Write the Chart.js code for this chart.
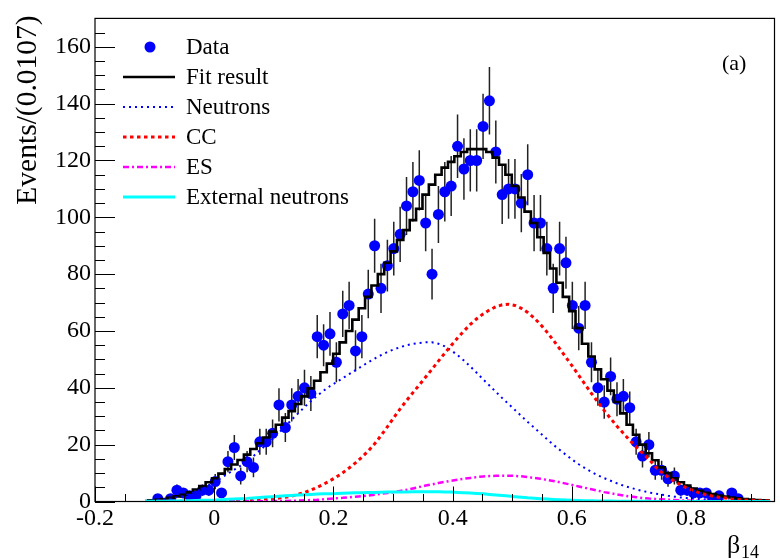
<!DOCTYPE html>
<html><head><meta charset="utf-8">
<script src="https://cdn.jsdelivr.net/npm/chart.js@4.4.1/dist/chart.umd.min.js"></script>
<style>html,body{margin:0;padding:0;background:#fff}#wrap{width:780px;height:559px}</style>
</head><body><div id="wrap"><canvas id="c" width="780" height="559"></canvas></div>
<script>
// Histogram binning (bin width from the axis title)
const BIN_LOW = -0.1;
const BIN_WIDTH = 0.0107;
const FIRST_BIN = -2;   // arrays start two bins below BIN_LOW

// Data counts per bin (null = empty bin, not drawn)
const dataCounts = [
  null, null, 1, null, 1, 4, 3, 2, 2, 4,
  4, 7, 3, 14, 19, 9, 14, 12, 21, 21,
  24, 34, 26, 34, 37, 40, 38, 58, 55, 59,
  49, 66, 69, 53, 58, 73, 90, 75, 83, 89,
  94, 104, 109, 113, 98, 80, 101, 109, 111, 125,
  117, 120, 120, 132, 141, 123, 108, 110, 110, 105,
  115, 98, 98, 89, 75, 89, 84, 69, 61, 69,
  49, 40, 35, 44, 36, 37, 33, 21, 16, 20,
  11, 11, 8, 9, 4, 4, 3, 3, 3, 1,
  2, null, 3, 1, null, null, null, null, null
];
const fitResult = [
  0.2, 0.4, 0.6, 0.9, 1.3, 1.8, 2.4, 3.2, 4.2, 5.4,
  6.8, 8.2, 9.8, 11.4, 13, 14.6, 16.5, 18.5, 20.5, 22.5,
  24.6, 27, 29.5, 31.8, 34.3, 37, 39.8, 42.5, 45.5, 48.5,
  52, 56, 60, 64, 68, 72, 76, 80, 84, 88,
  92, 95.5, 99, 103, 108, 111.5, 115, 117.5, 119.5, 121.5,
  123, 124, 124, 124, 123, 121, 118.5, 115, 111, 107,
  102, 98, 93, 87.5, 82, 77, 72, 67, 61, 55.5,
  51, 46.5, 43, 39, 35, 31, 27, 23.5, 20, 17,
  14.5, 12, 10, 8.2, 6.8, 5.6, 4.6, 3.8, 3.1, 2.6,
  2.1, 1.7, 1.4, 1.1, 0.9, 0.7, 0.55, 0.45, 0.35
];
const neutrons = [
  0.1, 0.3, 0.5, 0.8, 1.1, 1.5, 2.0, 2.7, 3.5, 4.5,
  5.7, 7.0, 8.4, 9.8, 11.2, 12.6, 14.2, 16, 18, 20,
  22, 24.2, 26.5, 28.8, 31, 33.2, 35.3, 37.2, 39, 40.6,
  42, 43.4, 44.8, 46.2, 47.6, 49, 50.3, 51.5, 52.6, 53.5,
  54.3, 55, 55.5, 55.8, 56, 56, 55.5, 54.6, 53.2, 51.5,
  49.6, 47.5, 45.3, 43, 40.8, 38.6, 36.4, 34.3, 32.2, 30.1,
  28, 26, 24, 22, 20, 18.2, 16.4, 14.7, 13.1, 11.7,
  10.4, 9.2, 8.2, 7.3, 6.4, 5.6, 4.9, 4.3, 3.7, 3.2,
  2.8, 2.4, 2.0, 1.7, 1.4, 1.2, 1.0, 0.85, 0.7, 0.6,
  0.5, 0.4, 0.33, 0.27, 0.22, 0.18, 0.14, 0.11, 0.09
];
const ccValues = [
  0, 0, 0.05, 0.05, 0.1, 0.1, 0.1, 0.15, 0.15, 0.2,
  0.25, 0.3, 0.35, 0.4, 0.45, 0.5, 0.6, 0.7, 0.8, 0.9,
  1.0, 1.2, 1.5, 1.9, 2.5, 3.2, 4.0, 5.0, 6.1, 7.3,
  8.6, 10.1, 11.8, 13.6, 15.6, 17.8, 20.3, 23.2, 26.3, 29.5,
  32.6, 35.5, 38.3, 41, 43.8, 46.6, 49.4, 52.2, 54.9, 57.5,
  60, 62.3, 64.3, 66, 67.4, 68.5, 69.2, 69.4, 69, 68,
  66.5, 64.6, 62.3, 59.7, 56.8, 53.8, 50.7, 47.6, 44.4, 41.2,
  38, 35, 32, 29.2, 26.5, 24, 21.5, 19.2, 17, 14.9,
  12.3, 10.3, 8.6, 7.1, 5.8, 4.7, 3.8, 3.0, 2.4, 1.9,
  1.5, 1.2, 0.9, 0.7, 0.55, 0.42, 0.32, 0.24, 0.18
];
const esValues = [
  0, 0, 0, 0, 0, 0, 0, 0, 0, 0,
  0.01, 0.02, 0.03, 0.04, 0.05, 0.06, 0.07, 0.08, 0.1, 0.12,
  0.14, 0.17, 0.2, 0.25, 0.3, 0.4, 0.5, 0.6, 0.8, 1.0,
  1.15, 1.3, 1.5, 1.7, 1.9, 2.1, 2.4, 2.7, 3.0, 3.3,
  3.7, 4.1, 4.6, 5.1, 5.6, 6.0, 6.5, 6.9, 7.3, 7.7,
  8.0, 8.3, 8.6, 8.8, 8.95, 9.05, 9.1, 9.1, 9.0, 8.85,
  8.6, 8.3, 8.0, 7.6, 7.2, 6.8, 6.3, 5.8, 5.3, 4.8,
  4.3, 3.8, 3.3, 2.9, 2.5, 2.1, 1.8, 1.5, 1.25, 1.05,
  0.9, 0.75, 0.62, 0.5, 0.4, 0.32, 0.25, 0.2, 0.15, 0.12,
  0.1, 0.08, 0.06, 0.05, 0.04, 0.03, 0.02, 0.02, 0.01
];
const externalNeutrons = [
  0.05, 0.08, 0.1, 0.13, 0.17, 0.2, 0.25, 0.3, 0.35, 0.4,
  0.45, 0.5, 0.62, 0.75, 0.9, 1.0, 1.1, 1.25, 1.4, 1.55,
  1.7, 1.85, 2.0, 2.15, 2.3, 2.4, 2.5, 2.6, 2.7, 2.75,
  2.8, 2.9, 3.0, 3.05, 3.1, 3.15, 3.2, 3.25, 3.3, 3.32,
  3.35, 3.37, 3.4, 3.4, 3.4, 3.4, 3.4, 3.35, 3.3, 3.2,
  3.1, 3.0, 2.85, 2.7, 2.5, 2.3, 2.1, 1.9, 1.7, 1.5,
  1.3, 1.15, 1.0, 0.85, 0.72, 0.6, 0.5, 0.42, 0.35, 0.3,
  0.25, 0.2, 0.17, 0.14, 0.12, 0.1, 0.08, 0.07, 0.06, 0.05,
  0.04, 0.04, 0.03, 0.03, 0.02, 0.02, 0.02, 0.01, 0.01, 0.01,
  0.01, 0.01, 0, 0, 0, 0, 0, 0, 0
];
const xTickValues = [-0.2, 0, 0.2, 0.4, 0.6, 0.8];
const xTickLabels = ['-0.2', '0', '0.2', '0.4', '0.6', '0.8'];
const yTickValues = [0, 20, 40, 60, 80, 100, 120, 140, 160];
const legendLabels = ['Data', 'Fit result', 'Neutrons', 'CC', 'ES', 'External neutrons'];

const binCenters = dataCounts.map((_, i) => BIN_LOW + (FIRST_BIN + i + 0.5) * BIN_WIDTH);
const pts = arr => arr.map((v, i) => ({x: binCenters[i], y: v}));

const FONT = "'Liberation Serif', 'Times New Roman', serif";

const framePlugin = {
  id: 'frame',
  beforeDatasetsDraw(chart) {
    const {ctx, chartArea: a, scales: {x, y}} = chart;
    // error bars
    ctx.save();
    ctx.beginPath(); ctx.rect(a.left, a.top, a.right - a.left, a.bottom - a.top); ctx.clip();
    ctx.strokeStyle = '#222'; ctx.lineWidth = 1.5;
    dataCounts.forEach((v, i) => {
      if (v === null) return;
      const px = x.getPixelForValue(binCenters[i]);
      const e = Math.sqrt(v);
      ctx.beginPath();
      ctx.moveTo(px, y.getPixelForValue(v - e));
      ctx.lineTo(px, y.getPixelForValue(v + e));
      ctx.stroke();
    });
    ctx.restore();
  },
  afterDraw(chart) {
    const {ctx, chartArea: a, scales: {x, y}} = chart;
    ctx.save();
    // frame
    ctx.strokeStyle = '#000'; ctx.lineWidth = 1.2;
    ctx.strokeRect(a.left, a.top, a.right - a.left, a.bottom - a.top);
    // x ticks (every 0.05, major every 0.2)
    ctx.lineWidth = 1;
    for (let i = 0; i <= 22; i++) {
      const v = -0.2 + 0.05 * i;
      if (v > x.max) break;
      const px = Math.round(x.getPixelForValue(v)) + 0.5;
      const len = (i % 4 === 0) ? 15 : 7.5;
      ctx.beginPath(); ctx.moveTo(px, a.bottom); ctx.lineTo(px, a.bottom - len); ctx.stroke();
    }
    // y ticks (every 5, major every 20)
    for (let i = 0; i * 5 <= y.max; i++) {
      const py = Math.round(y.getPixelForValue(i * 5)) + 0.5;
      const len = (i % 4 === 0) ? 20 : 10;
      ctx.beginPath(); ctx.moveTo(a.left, py); ctx.lineTo(a.left + len, py); ctx.stroke();
    }
    // axis titles
    ctx.fillStyle = '#000';
    ctx.save();
    ctx.translate(36, a.top - 3);
    ctx.rotate(-Math.PI / 2);
    ctx.font = '29.5px ' + FONT;
    ctx.textAlign = 'right'; ctx.textBaseline = 'alphabetic';
    ctx.fillText('Events/(0.0107)', 0, 0);
    ctx.restore();
    ctx.textAlign = 'left'; ctx.textBaseline = 'alphabetic';
    ctx.font = '26px ' + FONT;
    ctx.fillText('\u03B2', 727, 553);
    ctx.font = '18px ' + FONT;
    ctx.fillText('14', 741, 558);
    // panel label
    ctx.font = '22px ' + FONT;
    ctx.textBaseline = 'middle';
    ctx.fillText('(a)', 722, 64);
    // legend
    const ds = chart.data.datasets;
    ctx.font = '23px ' + FONT;
    legendLabels.forEach((lab, i) => {
      const ly = 47 + 30 * i;
      const d = ds[i];
      if (i === 0) {
        ctx.fillStyle = d.pointBackgroundColor;
        ctx.beginPath(); ctx.arc(150, ly, 5.5, 0, Math.PI * 2); ctx.fill();
      } else {
        ctx.strokeStyle = d.borderColor; ctx.lineWidth = d.borderWidth;
        ctx.setLineDash(d.borderDash || []);
        ctx.beginPath(); ctx.moveTo(123, ly); ctx.lineTo(175, ly); ctx.stroke();
        ctx.setLineDash([]);
      }
      ctx.fillStyle = '#000';
      ctx.fillText(lab, 186, ly + 1);
    });
    ctx.restore();
  }
};

new Chart(document.getElementById('c'), {
  type: 'line',
  data: {
    datasets: [
      {label: legendLabels[0], data: pts(dataCounts), showLine: false, pointRadius: 5.5,
       pointBackgroundColor: '#0000ff', pointBorderWidth: 0, pointBorderColor: '#0000ff', order: 10},
      {label: legendLabels[1], data: pts(fitResult), borderColor: '#000', borderWidth: 2.6,
       stepped: 'middle', pointRadius: 0, order: 6},
      {label: legendLabels[2], data: pts(neutrons), borderColor: '#0000ff', borderWidth: 2,
       borderDash: [2, 4], pointRadius: 0, order: 4},
      {label: legendLabels[3], data: pts(ccValues), borderColor: '#ff0000', borderWidth: 3,
       borderDash: [3.5, 3.5], pointRadius: 0, order: 3},
      {label: legendLabels[4], data: pts(esValues), borderColor: '#ff00ff', borderWidth: 2.5,
       borderDash: [6, 3, 2, 3], pointRadius: 0, order: 2},
      {label: legendLabels[5], data: pts(externalNeutrons), borderColor: '#00ffff', borderWidth: 3,
       pointRadius: 0, order: 1}
    ]
  },
  options: {
    responsive: false, animation: false, devicePixelRatio: 1,
    layout: {padding: {top: 13, right: 1, left: 0, bottom: 0}},
    plugins: {legend: {display: false}, tooltip: {enabled: false}},
    elements: {line: {tension: 0, fill: false}},
    scales: {
      x: {
        type: 'linear', min: -0.2, max: 0.94,
        grid: {display: false, drawTicks: false}, border: {display: false},
        afterBuildTicks: s => { s.ticks = xTickValues.map(v => ({value: v})); },
        afterFit: s => { s.height = 57.5; },
        ticks: {font: {family: FONT, size: 24}, color: '#000', padding: 3, maxRotation: 0, autoSkip: false,
          callback: (v) => { const i = xTickValues.findIndex(t => Math.abs(t - v) < 1e-6); return i >= 0 ? xTickLabels[i] : ''; }}
      },
      y: {
        min: 0, max: 170,
        grid: {display: false, drawTicks: false}, border: {display: false},
        afterBuildTicks: s => { s.ticks = yTickValues.map(v => ({value: v})); },
        afterFit: s => { s.width = 95; },
        ticks: {font: {family: FONT, size: 24}, color: '#000', padding: 4}
      }
    }
  },
  plugins: [framePlugin]
});
</script>
</body></html>
